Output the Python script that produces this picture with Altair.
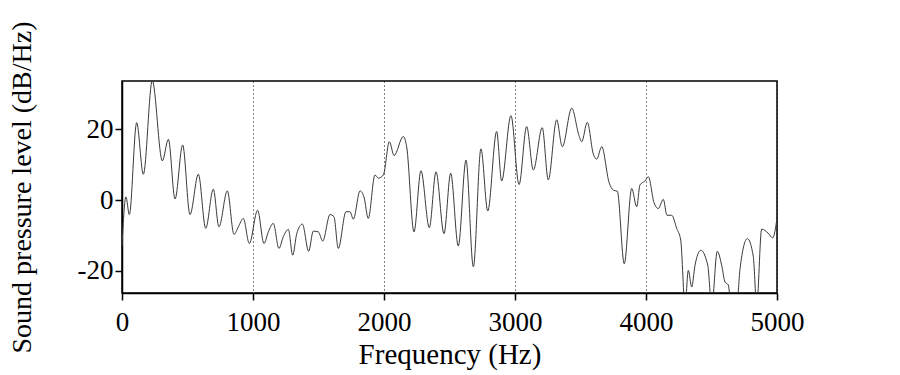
import altair as alt
import pandas as pd

# Frequency (Hz) of the curve's turning points
freq_hz = [
    0, 30, 56, 112, 163, 231, 308, 354, 405, 463, 519, 583, 639, 697, 740, 804,
    855, 888, 926, 972, 1035, 1084, 1117, 1155, 1198, 1231, 1270, 1303, 1334,
    1377, 1425, 1460, 1499, 1532, 1588, 1618, 1651, 1710, 1740, 1766, 1817,
    1847, 1880, 1931, 1957, 1995, 2041, 2077, 2147, 2173, 2229, 2282, 2346,
    2397, 2458, 2509, 2567, 2626, 2682, 2740, 2792, 2860, 2898, 2969, 3031,
    3089, 3140, 3208, 3254, 3318, 3361, 3433, 3489, 3509, 3552, 3598, 3624,
    3662, 3718, 3751, 3781, 3834, 3891, 3929, 3954, 3992, 4018, 4061, 4094,
    4132, 4160, 4196, 4234, 4265, 4298, 4323, 4349, 4374, 4418, 4471, 4502,
    4544, 4578, 4603, 4628, 4650, 4692, 4718, 4774, 4819, 4845, 4883, 4933,
    4967, 5000,
]

# Sound pressure level (dB/Hz) at those frequencies
level_db = [
    -13.0, 0.9, -4.1, 21.9, 7.3, 33.8, 11.1, 17.2, 0.3, 15.6, -4.1, 7.3, -8.0,
    3.1, -7.6, 2.6, -9.7, -7.6, -5.2, -12.3, -2.9, -12.3, -9.0, -6.6, -13.7,
    -10.4, -8.3, -15.6, -9.5, -6.8, -14.5, -8.8, -9.0, -11.6, -4.1, -4.7,
    -13.7, -3.3, -3.3, -5.4, 2.6, 0.9, -5.2, 7.1, 6.2, 7.1, 16.5, 12.6, 18.0,
    15.1, -9.0, 8.3, -7.8, 8.0, -9.5, 7.6, -13.0, 11.3, -18.9, 14.5, -3.1,
    19.4, 5.4, 23.9, 4.4, 20.8, 8.5, 20.5, 5.7, 22.7, 15.1, 26.0, 18.2, 16.5,
    22.0, 13.0, 11.6, 15.1, 5.0, 2.8, 2.5, -18.0, 3.3, -1.9, 4.3, 5.4, 6.6,
    -0.7, -2.4, 0.2, -4.3, -4.3, -8.0, -11.3, -30.0, -19.9, -24.6, -18.5,
    -14.2, -18.4, -30.0, -14.5, -18.5, -23.2, -24.0, -30.0, -30.0, -19.4,
    -10.9, -16.0, -30.0, -8.2, -9.4, -10.7, -5.2,
]

x_ticks = [0, 1000, 2000, 3000, 4000, 5000]
y_ticks = [-20, 0, 20]

df = pd.DataFrame({"f": freq_hz, "db": level_db})

FONT = "Liberation Serif"
W, H = 655, 212

chart = (
    alt.Chart(df)
    .mark_line(clip=True, color="#3a3a3a", strokeWidth=1, interpolate="monotone")
    .encode(
        x=alt.X(
            "f:Q",
            scale=alt.Scale(domain=[0, 5000], nice=False, zero=False),
            axis=alt.Axis(
                values=x_ticks,
                labelExpr="toString(datum.value)",
                labelFlush=False,
                title="Frequency (Hz)",
                grid=True,
                gridDash=[1, 3],
                gridColor="#000000",
                gridWidth=1,
                labelPadding=9,
                titleX=W / 2,
                titleY=70,
                titleAlign="center",
                titleBaseline="alphabetic",
            ),
        ),
        y=alt.Y(
            "db:Q",
            scale=alt.Scale(domain=[-26.3, 33.7], nice=False, zero=False),
            axis=alt.Axis(
                values=y_ticks,
                labelExpr="toString(datum.value)",
                labelFlush=False,
                title="Sound pressure level (dB/Hz)",
                titleFontSize=28,
                grid=False,
                labelPadding=2,
                titleAngle=270,
                titleX=-92,
                titleY=H / 2,
                titleAlign="center",
                titleBaseline="alphabetic",
            ),
        ),
    )
    .properties(
        width=W,
        height=H,
        autosize=alt.AutoSizeParams(type="none"),
        padding={"left": 114, "top": 73, "right": 100, "bottom": 84},
    )
    .configure(background="white")
    .configure_view(stroke="#000000", strokeWidth=1.5)
    .configure_axis(
        domainColor="#000000",
        domainWidth=1.5,
        tickColor="#000000",
        tickWidth=1.5,
        tickSize=7,
        labelFont=FONT,
        labelFontSize=27,
        labelColor="#000000",
        titleFont=FONT,
        titleFontSize=29,
        titleFontWeight="normal",
        titleColor="#000000",
    )
)

chart.save("out.html", embed_options={"renderer": "svg", "actions": False})
